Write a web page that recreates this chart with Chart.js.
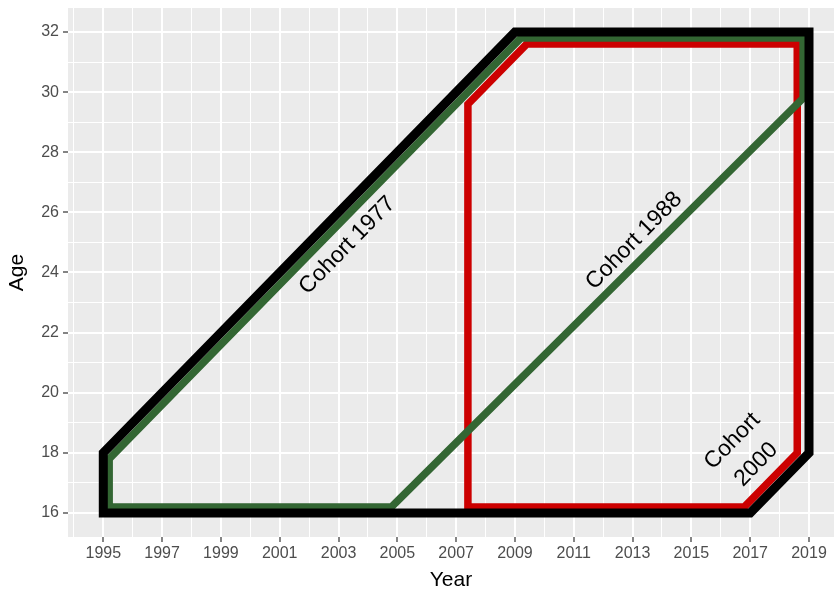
<!DOCTYPE html>
<html>
<head>
<meta charset="utf-8">
<title>Cohorts by year and age</title>
<script src="https://cdn.jsdelivr.net/npm/chart.js@4/dist/chart.umd.min.js"></script>
<style>
  html, body { margin: 0; padding: 0; background: #ffffff; }
  #wrap { width: 834px; height: 593px; }
</style>
</head>
<body>
<div id="wrap"><canvas id="chart" width="834" height="593"></canvas></div>
<script>
// Axis breaks: labelled (major) breaks and the in-between minor grid lines
const yearBreaks = [1995, 1997, 1999, 2001, 2003, 2005, 2007, 2009, 2011, 2013, 2015, 2017, 2019];
const yearMinor  = [1994, 1996, 1998, 2000, 2002, 2004, 2006, 2008, 2010, 2012, 2014, 2016, 2018];
const ageBreaks  = [16, 18, 20, 22, 24, 26, 28, 30, 32];
const ageMinor   = [17, 19, 21, 23, 25, 27, 29, 31];

// Outer frame: everyone observed aged 16-32 in 1995-2019
const frameYear = [1995, 1995, 2009, 2019, 2019, 2017, 1995];
const frameAge  = [16,   18,   32,   32,   18,   16,   16];

// Cohorts born 1977-1988
const olderYear = [1995.2, 1995.2, 2009.2, 2018.8, 2018.8, 2004.8, 1995.2];
const olderAge  = [16.2,   17.8,   31.8,   31.8,   29.8,   16.2,   16.2];

// Window 2007-2018 up to the 2000 cohort
const recentYear = [2007.4, 2007.4, 2009.4, 2018.6, 2018.6, 2016.8, 2007.4];
const recentAge  = [16.2,   29.6,   31.6,   31.6,   18.0,   16.2,   16.2];

// Cohort labels (data coordinates)
const cohortLabels = ['Cohort 1977', 'Cohort 1988', 'Cohort\n2000'];
const cohortLabelYear = [2003.3, 2013.05, 2016.8];
const cohortLabelAge  = [24.9, 25.05, 18.0];

// Closed outline: repeat the first edge so the starting corner joins cleanly
function outline(xs, ys) {
  const pts = xs.map((x, i) => ({ x: x, y: ys[i] }));
  pts.push({ x: xs[1], y: ys[1] });
  return pts;
}

const FONT = "'Liberation Sans', Arial, sans-serif";

const panelBackground = {
  id: 'panelBackground',
  beforeDraw(chart) {
    const { ctx, chartArea: a } = chart;
    ctx.save();
    ctx.fillStyle = '#EBEBEB';
    ctx.fillRect(a.left, a.top, a.right - a.left, a.bottom - a.top);
    ctx.restore();
  }
};

// Labels run parallel to the one-year-per-year-of-age diagonals
const cohortText = {
  id: 'cohortText',
  afterDatasetsDraw(chart) {
    const { ctx } = chart;
    const xs = chart.scales.x, ys = chart.scales.y;
    const pxPerYear = Math.abs(xs.getPixelForValue(2001) - xs.getPixelForValue(2000));
    const pxPerAge = Math.abs(ys.getPixelForValue(21) - ys.getPixelForValue(20));
    const angle = -Math.atan2(pxPerAge, pxPerYear);
    const size = 23;
    ctx.save();
    ctx.font = size + 'px ' + FONT;
    ctx.fillStyle = '#000000';
    ctx.textAlign = 'center';
    ctx.textBaseline = 'middle';
    cohortLabels.forEach((label, i) => {
      const lines = label.split('\n');
      const lh = size * 1.45;
      ctx.save();
      ctx.translate(xs.getPixelForValue(cohortLabelYear[i]), ys.getPixelForValue(cohortLabelAge[i]));
      ctx.rotate(angle);
      lines.forEach((t, j) => {
        ctx.fillText(t, 0, (j - (lines.length - 1) / 2) * lh);
      });
      ctx.restore();
    });
    ctx.restore();
  }
};

const isMajor = (v, majors) => majors.includes(v);

new Chart(document.getElementById('chart'), {
  type: 'scatter',
  data: {
    datasets: [
      { label: 'frame', data: outline(frameYear, frameAge), borderColor: '#000000', borderWidth: 9 },
      { label: '1977-1988', data: outline(olderYear, olderAge), borderColor: '#336633', borderWidth: 7.5 },
      { label: '2007-2018', data: outline(recentYear, recentAge), borderColor: '#CC0000', borderWidth: 7.5 }
    ].map(d => Object.assign(d, {
      showLine: true, pointRadius: 0, pointHoverRadius: 0, tension: 0,
      borderJoinStyle: 'miter', borderCapStyle: 'butt', fill: false
    }))
  },
  options: {
    responsive: false,
    animation: false,
    devicePixelRatio: 1,
    layout: { padding: { top: 8, right: 0, left: 0, bottom: 0 } },
    plugins: { legend: { display: false }, tooltip: { enabled: false } },
    scales: {
      x: {
        type: 'linear',
        min: 1993.8,
        max: 2019.85,
        afterBuildTicks(scale) {
          scale.ticks = yearMinor.concat(yearBreaks).sort((a, b) => a - b).map(v => ({ value: v }));
        },
        afterFit(scale) {
          scale.height = 56;
          scale.paddingLeft = 0;
          scale.paddingRight = 0;
        },
        border: { display: false },
        grid: {
          color: '#FFFFFF',
          lineWidth: c => (c.tick && isMajor(c.tick.value, yearBreaks)) ? 2 : 1,
          tickColor: c => (c.tick && isMajor(c.tick.value, yearBreaks)) ? '#333333' : 'rgba(0,0,0,0)',
          tickLength: 5,
          tickWidth: 1.2
        },
        ticks: {
          autoSkip: false,
          maxRotation: 0,
          padding: 2,
          color: '#4D4D4D',
          font: { family: FONT, size: 16 },
          callback: v => isMajor(v, yearBreaks) ? String(v) : ''
        },
        title: {
          display: true,
          text: 'Year',
          color: '#000000',
          font: { family: FONT, size: 21 },
          padding: { top: 0, bottom: 0 }
        }
      },
      y: {
        type: 'linear',
        min: 15.2,
        max: 32.8,
        afterBuildTicks(scale) {
          scale.ticks = ageMinor.concat(ageBreaks).sort((a, b) => a - b).map(v => ({ value: v }));
        },
        afterFit(scale) {
          scale.width = 68;
          scale.paddingTop = 0;
          scale.paddingBottom = 0;
        },
        border: { display: false },
        grid: {
          color: '#FFFFFF',
          lineWidth: c => (c.tick && isMajor(c.tick.value, ageBreaks)) ? 2 : 1,
          tickColor: c => (c.tick && isMajor(c.tick.value, ageBreaks)) ? '#333333' : 'rgba(0,0,0,0)',
          tickLength: 5,
          tickWidth: 1.2
        },
        ticks: {
          autoSkip: false,
          padding: 4,
          color: '#4D4D4D',
          font: { family: FONT, size: 16 },
          callback: v => isMajor(v, ageBreaks) ? String(v) : ''
        },
        title: {
          display: true,
          text: 'Age',
          color: '#000000',
          font: { family: FONT, size: 21 },
          padding: { top: 5, bottom: 0 }
        }
      }
    }
  },
  plugins: [panelBackground, cohortText]
});
</script>
</body>
</html>
